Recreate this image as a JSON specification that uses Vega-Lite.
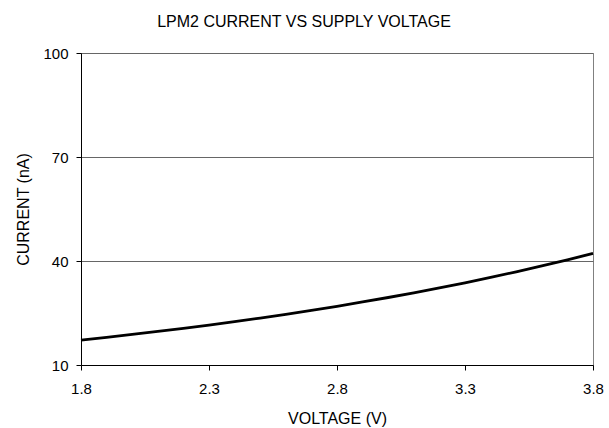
{
  "$schema": "https://vega.github.io/schema/vega-lite/v6.json",
  "autosize": "none",
  "width": 512,
  "height": 312,
  "padding": {"left": 81, "top": 53, "right": 16, "bottom": 63},
  "background": "white",
  "config": {
    "font": "Liberation Sans",
    "view": {"stroke": "#808080", "strokeWidth": 1}
  },
  "title": {
    "text": "LPM2 CURRENT VS SUPPLY VOLTAGE",
    "font": "Liberation Sans",
    "fontSize": 16,
    "fontWeight": "normal",
    "color": "#000",
    "anchor": "middle",
    "frame": "group",
    "dx": -33,
    "dy": 14,
    "baseline": "alphabetic",
    "offset": 17
  },
  "data": {
    "values": [
      {"v": 1.8, "i": 17.2}, {"v": 1.9, "i": 17.99}, {"v": 2.0, "i": 18.82},
      {"v": 2.1, "i": 19.68}, {"v": 2.2, "i": 20.58}, {"v": 2.3, "i": 21.53},
      {"v": 2.4, "i": 22.52}, {"v": 2.5, "i": 23.55}, {"v": 2.6, "i": 24.63},
      {"v": 2.7, "i": 25.76}, {"v": 2.8, "i": 26.94}, {"v": 2.9, "i": 28.18},
      {"v": 3.0, "i": 29.47}, {"v": 3.1, "i": 30.82}, {"v": 3.2, "i": 32.24},
      {"v": 3.3, "i": 33.72}, {"v": 3.4, "i": 35.26}, {"v": 3.5, "i": 36.88},
      {"v": 3.6, "i": 38.57}, {"v": 3.7, "i": 40.34}, {"v": 3.8, "i": 42.2}
    ]
  },
  "mark": {"type": "line", "color": "#000", "strokeWidth": 2.8, "interpolate": "monotone"},
  "encoding": {
    "x": {
      "field": "v", "type": "quantitative",
      "scale": {"domain": [1.8, 3.8], "nice": false, "zero": false},
      "axis": {
        "values": [1.8, 2.3, 2.8, 3.3, 3.8],
        "format": ".1f",
        "title": "VOLTAGE (V)",
        "grid": false,
        "domainColor": "#000",
        "tickColor": "#000",
        "tickSize": 5,
        "labelFontSize": 15,
        "labelColor": "#000",
        "labelBaseline": "alphabetic",
        "labelPadding": 23,
        "labelFlush": false,
        "titleFontSize": 16,
        "titleFontWeight": "normal",
        "titleColor": "#000",
        "titleBaseline": "alphabetic",
        "titleY": 58
      }
    },
    "y": {
      "field": "i", "type": "quantitative",
      "scale": {"domain": [10, 100], "nice": false, "zero": false},
      "axis": {
        "values": [10, 40, 70, 100],
        "title": "CURRENT (nA)",
        "grid": true,
        "gridColor": "#666666",
        "gridOpacity": 1,
        "domainColor": "#000",
        "tickColor": "#000",
        "tickSize": 5,
        "labelFontSize": 15,
        "labelColor": "#000",
        "labelPadding": 8,
        "labelFlush": false,
        "titleFontSize": 16,
        "titleFontWeight": "normal",
        "titleColor": "#000",
        "titleAngle": -90,
        "titleBaseline": "alphabetic",
        "titleX": -53,
        "titleY": 156
      }
    }
  }
}
